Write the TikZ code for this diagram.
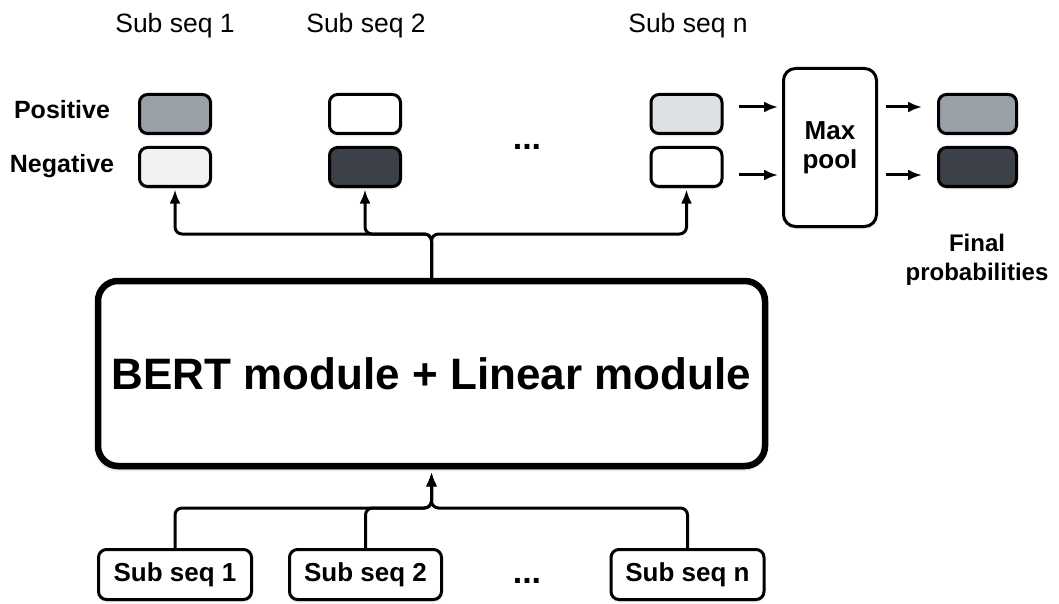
\documentclass[tikz,border=0pt]{standalone}
\usepackage{fontspec}
\setmainfont{Liberation Sans}
\usetikzlibrary{arrows.meta,shadows.blur}
\definecolor{midgray}{HTML}{9AA0A8}
\definecolor{darkcell}{HTML}{3C4049}
\definecolor{lightcell}{HTML}{F1F2F3}
\definecolor{palecell}{HTML}{DDE0E4}
\begin{document}
\begin{tikzpicture}[x=1pt,y=-1pt,
  softshadow/.style={blur shadow={shadow blur steps=5, shadow xshift=0pt, shadow yshift=-1.5pt, shadow blur radius=2pt, shadow opacity=22}},
  cell/.style={draw, line width=3pt, rounded corners=8pt, minimum width=71pt, minimum height=39pt, inner sep=0pt, fill=white, softshadow},
  fcell/.style={cell, minimum width=78pt},
  inbox/.style={draw, line width=3pt, rounded corners=8pt, minimum width=153pt, minimum height=50pt, inner sep=0pt, fill=white, softshadow, font=\fontsize{26}{30}\selectfont\bfseries},
  conn/.style={line width=3pt, rounded corners=7pt},
  arr/.style={line width=3pt, -{Latex[length=14pt,width=11pt]}},
  toplabel/.style={anchor=base, font=\fontsize{26.5}{30}\selectfont},
  rowlabel/.style={anchor=base, font=\fontsize{25}{30}\selectfont\bfseries},
  dots/.style={anchor=base, font=\fontsize{34}{34}\selectfont\bfseries}
]
\useasboundingbox (0,0) rectangle (1059,604);

% top labels
\node[toplabel] (t1) at (175,33) {Sub seq 1};
\node[toplabel] (t2) at (366,33) {Sub seq 2};
\node[toplabel] (tn) at (688,33) {Sub seq n};

\node[rowlabel] (pos) at (62,119) {Positive};
\node[rowlabel] (neg) at (62,173) {Negative};

% output cells
\node[cell, fill=midgray]   (p1) at (175,114) {};
\node[cell, fill=lightcell] (n1) at (175,167) {};
\node[cell]                 (p2) at (365,114) {};
\node[cell, fill=darkcell]  (n2) at (365,167) {};
\node[cell, fill=palecell]  (pn) at (686.5,114) {};
\node[cell]                 (nn) at (686.5,167) {};
\node[dots] (d1) at (527,150) {...};

% max pool
\node[draw, line width=3pt, rounded corners=12pt, minimum width=93pt, minimum height=158pt, fill=white, softshadow, align=center, font=\fontsize{26}{29}\selectfont\bfseries] (mp) at (830,147.5) {Max\\pool};

\node[fcell, fill=midgray]  (fp) at (977.5,114) {};
\node[fcell, fill=darkcell] (fn) at (977.5,167) {};
\node[align=center, font=\fontsize{24}{29}\selectfont\bfseries] (fl) at (977,260) {Final\\probabilities};

\draw[arr, shorten >=4pt] ([xshift=15pt,yshift=7pt]pn.east) -- ([yshift=7pt]pn.east -| mp.west);
\draw[arr, shorten >=4pt] ([xshift=15pt,yshift=-8pt]nn.east) -- ([yshift=-8pt]nn.east -| mp.west);
\draw[arr, shorten >=15pt] ([xshift=8pt,yshift=7pt]mp.east |- fp.east) -- ([yshift=7pt]fp.west);
\draw[arr, shorten >=15pt] ([xshift=8pt,yshift=-8pt]mp.east |- fn.east) -- ([yshift=-8pt]fn.west);

% BERT module
\node[draw, line width=6.5pt, rounded corners=20pt, minimum width=667pt, minimum height=185pt, fill=white,
  blur shadow={shadow blur steps=6, shadow xshift=-1pt, shadow yshift=-3pt, shadow blur radius=3pt, shadow opacity=30},
  font=\fontsize{44}{50}\selectfont\bfseries] (bert) at (431.5,373.5) {BERT module + Linear module};

\coordinate (jt) at (431.5,234);
\draw[conn, arr, shorten >=1.5pt] (bert.north) -- (jt) -| (n1.south);
\draw[conn, arr, shorten >=1.5pt] (bert.north) -- (jt) -| (n2.south);
\draw[conn, arr, shorten >=1.5pt] (bert.north) -- (jt) -| (nn.south);

% inputs
\node[inbox] (b1) at (175,574.5) {Sub seq 1};
\node[inbox, minimum width=152pt] (b2) at (365.5,574.5) {Sub seq 2};
\node[inbox] (bn) at (687.5,574.5) {Sub seq n};
\node[dots] (d2) at (527,583) {...};

\coordinate (jb) at (431.5,508);
\draw[conn, arr, shorten >=3pt] (b1.north) |- (jb) -- (bert.south);
\draw[conn, arr, shorten >=3pt] (b2.north) |- (jb) -- (bert.south);
\draw[conn, arr, shorten >=3pt] (bn.north) |- (jb) -- (bert.south);
\end{tikzpicture}
\end{document}
